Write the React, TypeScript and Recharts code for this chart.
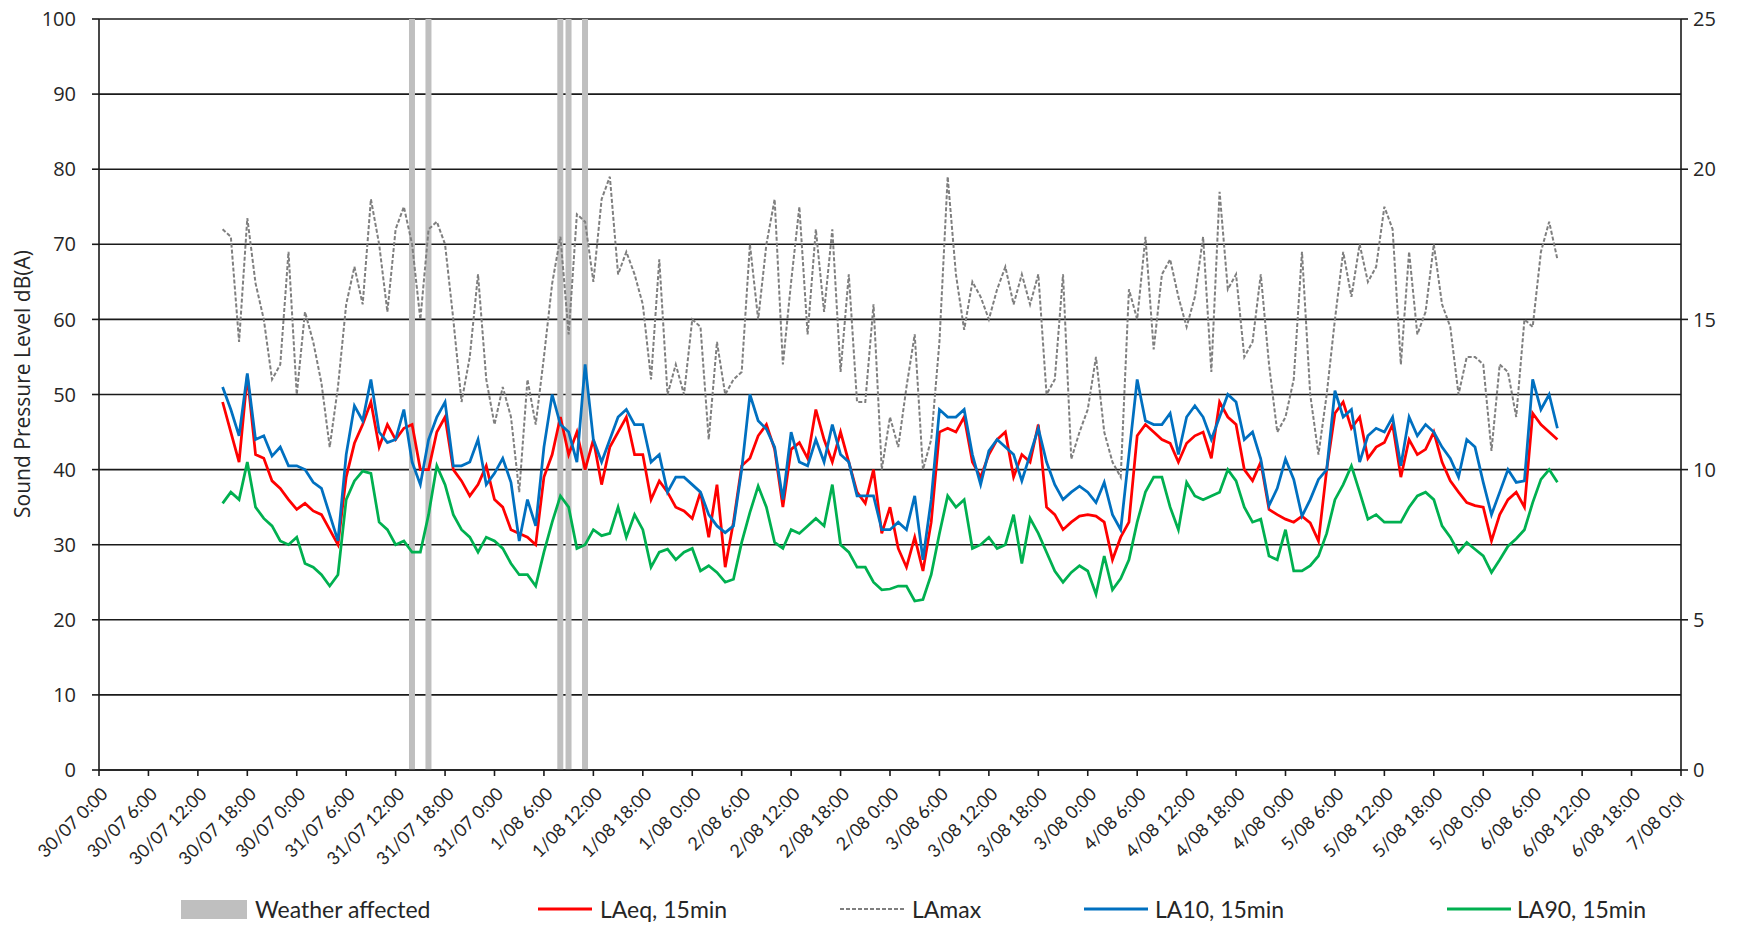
import React from 'react';
import { ComposedChart, Line, Bar, XAxis, YAxis, CartesianGrid } from 'recharts';

// hourly readings, first one at 30/07 15:00 (hour 15 of the axis)
const START_HOUR = 15;

const laeq = [
  49, 45, 41, 52.5, 42, 41.5, 38.5, 37.5, 36, 34.7,
  35.5, 34.5, 34, 32, 30, 39, 43.5, 46, 49, 43,
  46, 44, 45.5, 46, 40, 40, 45, 47, 40, 38.5,
  36.5, 38, 40.5, 36, 35, 32, 31.5, 31, 30, 39,
  42, 47, 42, 45, 40, 44, 38, 43, 45, 47,
  42, 42, 36, 38.5, 37, 35, 34.5, 33.5, 37, 31,
  38, 27, 33, 40.5, 41.5, 44.5, 46, 42.7, 35, 42.7,
  43.6, 41.5, 48, 44, 41, 45, 41, 37, 35.5, 40,
  31.5, 35, 29.5, 27, 31, 26.5, 33, 45, 45.5, 45,
  47, 41, 39, 42, 44, 45, 39, 42, 41, 46,
  35, 34, 32, 33, 33.8, 34, 33.8, 33, 28, 31,
  33, 44.5, 46, 45, 44, 43.5, 41, 43.5, 44.5, 45,
  41.5, 49, 47, 46, 40, 38.5, 41, 34.7, 34, 33.4,
  33, 33.8, 32.9, 30.5, 40, 47.5, 49, 45.5, 47, 41.5,
  43, 43.6, 46, 39, 44, 42, 42.7, 45, 41, 38.5,
  37, 35.6, 35.2, 35, 30.5, 34, 36, 37, 35, 47.5,
  46, 45, 44,
];

const lamax = [
  72, 71, 57, 73.5, 64.8, 60, 52, 54, 69, 50,
  61, 57, 51.5, 43, 51, 62, 67, 62, 76, 70,
  61, 72, 75, 70, 60, 72, 73, 70, 60, 49,
  55, 66, 52, 46, 51, 47, 37, 52, 46, 55,
  64.8, 71, 58, 74, 73, 65, 76, 79, 66, 69,
  66, 62, 52, 68, 50, 54, 50, 60, 59, 44,
  57, 50, 52, 53, 70, 60, 70, 76, 54, 65,
  75, 58, 72, 61, 72, 53, 66, 49, 49, 62,
  40, 47, 43, 51, 58, 40, 44, 57, 79, 66,
  58.6, 65, 63, 60, 64, 67, 62, 66, 62, 66,
  50, 52, 66, 41.4, 45, 48, 55, 45, 41, 39,
  64, 60, 71, 56, 66, 68, 63, 59, 63, 71,
  53, 77, 64, 66, 55, 57, 66, 54, 45, 47,
  52, 69, 50, 42, 50, 60, 69, 63, 70, 65,
  67, 75, 72, 54, 69, 58, 61, 70, 62, 59,
  50, 55, 55, 54, 42.5, 54, 53, 47, 60, 59,
  69, 73, 68,
];

const la10 = [
  51, 48, 44.5, 52.8, 44, 44.5, 41.8, 43, 40.5, 40.5,
  40, 38.3, 37.5, 34, 30.5, 42, 48.5, 46.5, 52, 45,
  43.6, 44, 48, 41, 38, 44, 47, 49, 40.5, 40.5,
  41, 44, 38, 39.5, 41.5, 38.3, 30.5, 36, 32.5, 43,
  50, 46, 45, 41, 54, 44, 41, 44, 47, 48,
  46, 46, 41, 42, 37, 39, 39, 38, 37, 34,
  32.5, 31.6, 32.5, 40, 50, 46.5, 45.4, 43, 36, 45,
  41, 40.5, 44, 41, 46, 42, 41, 36.5, 36.5, 36.5,
  32, 32, 33, 32, 36.5, 28, 36, 48, 47, 47,
  48, 42, 38, 42.5, 44, 43, 42, 38.5, 42, 45.5,
  41, 38, 36, 37, 37.8, 37, 35.6, 38.3, 34, 32,
  42, 52, 46.5, 46, 46, 47.5, 42, 47, 48.5, 47,
  44, 47, 50, 49, 44, 45, 41.4, 35.2, 37.5, 41.4,
  38.7, 33.8, 36, 38.7, 40, 50.5, 47, 48, 41, 44.5,
  45.5, 45, 47, 40.5, 47, 44.5, 46, 45, 43, 41.5,
  39, 44, 43, 38.3, 34, 37, 40, 38.3, 38.5, 52,
  48, 50, 45.5,
];

const la90 = [
  35.5, 37, 36, 41, 35, 33.5, 32.5, 30.5, 30, 31,
  27.5, 27, 26, 24.5, 26, 36, 38.5, 39.8, 39.5, 33,
  32, 30, 30.5, 29, 29, 34, 40.5, 38, 34, 32,
  31, 29, 31, 30.5, 29.5, 27.5, 26, 26, 24.5, 29,
  33, 36.5, 35, 29.5, 30, 32, 31.2, 31.5, 35, 31,
  34, 32, 27, 29, 29.4, 28, 29, 29.5, 26.5, 27.2,
  26.3, 25, 25.4, 30.3, 34.3, 37.8, 35, 30.3, 29.5, 32,
  31.5, 32.5, 33.5, 32.5, 38, 30, 29, 27, 27, 25,
  24, 24.1, 24.5, 24.5, 22.5, 22.7, 26, 31.5, 36.5, 35,
  36, 29.5, 30, 31, 29.5, 30, 34, 27.5, 33.5, 31.5,
  29, 26.5, 25, 26.3, 27.2, 26.5, 23.4, 28.5, 24, 25.5,
  28, 33, 37, 39, 39, 35, 32, 38.3, 36.5, 36,
  36.5, 37, 40, 38.5, 35, 33, 33.4, 28.5, 28, 32,
  26.5, 26.5, 27.2, 28.5, 31.5, 36, 38, 40.5, 37, 33.4,
  34, 33, 33, 33, 35, 36.5, 37, 36, 32.5, 31,
  29, 30.3, 29.4, 28.5, 26.3, 28, 29.8, 30.8, 32, 35.6,
  38.7, 40, 38.3,
];

// hours flagged as weather affected (drawn full height on the right axis)
const weatherHours = [38, 40, 56, 57, 59];
const WEATHER_LEVEL = 25;

const tickLabels = [
  '30/07 0:00', '30/07 6:00', '30/07 12:00', '30/07 18:00', '30/07 0:00',
  '31/07 6:00', '31/07 12:00', '31/07 18:00', '31/07 0:00',
  '1/08 6:00', '1/08 12:00', '1/08 18:00', '1/08 0:00',
  '2/08 6:00', '2/08 12:00', '2/08 18:00', '2/08 0:00',
  '3/08 6:00', '3/08 12:00', '3/08 18:00', '3/08 0:00',
  '4/08 6:00', '4/08 12:00', '4/08 18:00', '4/08 0:00',
  '5/08 6:00', '5/08 12:00', '5/08 18:00', '5/08 0:00',
  '6/08 6:00', '6/08 12:00', '6/08 18:00', '7/08 0:00',
];
const leftTicks = [0, 10, 20, 30, 40, 50, 60, 70, 80, 90, 100];
const rightTicks = [0, 5, 10, 15, 20, 25];

const data = laeq.map((v, i) => {
  const t = START_HOUR + i;
  return {
    t,
    laeq: v,
    lamax: lamax[i],
    la10: la10[i],
    la90: la90[i],
    weather: weatherHours.includes(t) ? WEATHER_LEVEL : null,
  };
});

const xTicks = tickLabels.map((_, i) => i * 6);

const XTick = (props: any) => {
  const { x, y, payload, index } = props;
  const label = tickLabels[Math.round(payload.value / 6)];
  const tx = x + 10;
  const ty = y + 19;
  const last = index === tickLabels.length - 1;
  return (
    <g>
      {last && (
        <defs>
          <clipPath id="lastTickClip">
            <rect x={x - 200} y={y - 10} width={202} height={200} />
          </clipPath>
        </defs>
      )}
      <text
        x={tx}
        y={ty}
        transform={`rotate(-45, ${tx}, ${ty})`}
        textAnchor="end"
        fontFamily="Lato"
        fontSize={18}
        fill="#262626"
        clipPath={last ? 'url(#lastTickClip)' : undefined}
      >
        {label}
      </text>
    </g>
  );
};

const YTitle = () => (
  <text
    x={22}
    y={384}
    transform="rotate(-90, 22, 384)"
    textAnchor="middle"
    dominantBaseline="central"
    fontFamily="Open Sans"
    fontSize={21}
    fill="#262626"
  >
    Sound Pressure Level dB(A)
  </text>
);

const legendFont = { fontFamily: 'Lato', fontSize: 23, color: '#262626', lineHeight: '28px' };

const Legend = () => (
  <div style={{ position: 'absolute', top: 895, left: 0, width: 1743, height: 30, ...legendFont }}>
    <div style={{ position: 'absolute', left: 181, top: 5, width: 66, height: 19, background: '#BFBFBF' }} />
    <span style={{ position: 'absolute', left: 255, top: 0 }}>Weather affected</span>

    <svg style={{ position: 'absolute', left: 538, top: 11 }} width={54} height={6}>
      <line x1={0} y1={3} x2={54} y2={3} stroke="#FF0000" strokeWidth={3} />
    </svg>
    <span style={{ position: 'absolute', left: 600, top: 0 }}>LAeq, 15min</span>

    <svg style={{ position: 'absolute', left: 840, top: 11 }} width={64} height={6}>
      <line x1={0} y1={3} x2={64} y2={3} stroke="#7F7F7F" strokeWidth={2} strokeDasharray="4 2" />
    </svg>
    <span style={{ position: 'absolute', left: 912, top: 0 }}>LAmax</span>

    <svg style={{ position: 'absolute', left: 1084, top: 11 }} width={64} height={6}>
      <line x1={0} y1={3} x2={64} y2={3} stroke="#0070C0" strokeWidth={3} />
    </svg>
    <span style={{ position: 'absolute', left: 1155, top: 0 }}>LA10, 15min</span>

    <svg style={{ position: 'absolute', left: 1447, top: 11 }} width={64} height={6}>
      <line x1={0} y1={3} x2={64} y2={3} stroke="#00B050" strokeWidth={3} />
    </svg>
    <span style={{ position: 'absolute', left: 1517, top: 0 }}>LA90, 15min</span>
  </div>
);

export default function App() {
  const tickFont = { fontFamily: 'Open Sans', fontSize: 20, fill: '#262626' };
  return (
    <div style={{ position: 'absolute', left: 0, top: 0, width: 1743, height: 927, background: '#fff' }}>
      <ComposedChart
        width={1743}
        height={927}
        data={data}
        margin={{ top: 19, right: 12, left: 0, bottom: 57 }}
      >
        <CartesianGrid
          yAxisId="left"
          vertical={false}
          stroke="#1a1a1a"
          strokeWidth={1.6}
        />
        <XAxis
          dataKey="t"
          type="number"
          domain={[0, 192]}
          ticks={xTicks}
          interval={0}
          height={100}
          axisLine={{ stroke: '#1a1a1a', strokeWidth: 1.6 }}
          tickLine={{ stroke: '#1a1a1a', strokeWidth: 1.6 }}
          tickSize={6}
          tickMargin={0}
          tick={<XTick />}
        />
        <YAxis
          yAxisId="left"
          domain={[0, 100]}
          ticks={leftTicks}
          interval={0}
          width={99}
          axisLine={{ stroke: '#1a1a1a', strokeWidth: 1.6 }}
          tickLine={{ stroke: '#1a1a1a', strokeWidth: 1.6 }}
          tickSize={7}
          tickMargin={16}
          tick={tickFont}
          label={<YTitle />}
        />
        <YAxis
          yAxisId="right"
          orientation="right"
          domain={[0, 25]}
          ticks={rightTicks}
          interval={0}
          width={50}
          axisLine={{ stroke: '#1a1a1a', strokeWidth: 1.6 }}
          tickLine={{ stroke: '#1a1a1a', strokeWidth: 1.6 }}
          tickSize={7}
          tickMargin={5}
          tick={tickFont}
        />
        <Bar
          yAxisId="right"
          dataKey="weather"
          fill="#BFBFBF"
          barSize={6}
          isAnimationActive={false}
        />
        <Line
          yAxisId="left"
          dataKey="laeq"
          stroke="#FF0000"
          strokeWidth={2.75}
          dot={false}
          type="linear"
          isAnimationActive={false}
        />
        <Line
          yAxisId="left"
          dataKey="lamax"
          stroke="#7F7F7F"
          strokeWidth={2}
          strokeDasharray="4 2"
          dot={false}
          type="linear"
          isAnimationActive={false}
        />
        <Line
          yAxisId="left"
          dataKey="la10"
          stroke="#0070C0"
          strokeWidth={2.75}
          dot={false}
          type="linear"
          isAnimationActive={false}
        />
        <Line
          yAxisId="left"
          dataKey="la90"
          stroke="#00B050"
          strokeWidth={2.75}
          dot={false}
          type="linear"
          isAnimationActive={false}
        />
      </ComposedChart>
      <Legend />
    </div>
  );
}
